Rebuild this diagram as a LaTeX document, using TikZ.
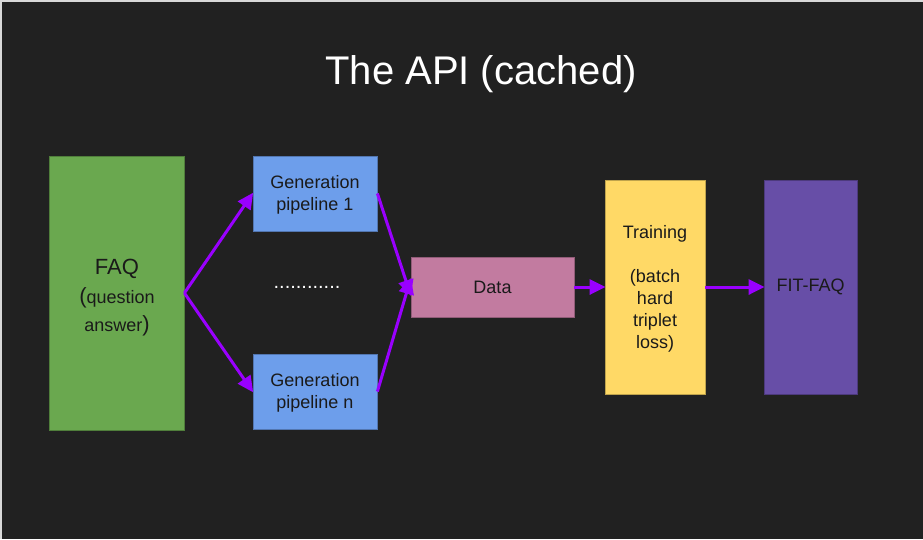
\documentclass[tikz,border=0pt]{standalone}
\usepackage{fontspec}
\setmainfont{Liberation Sans}
\usetikzlibrary{arrows.meta}
\definecolor{bg}{HTML}{212121}
\definecolor{edge}{HTML}{D9D9D9}
\definecolor{faqg}{HTML}{6AA84F}
\definecolor{genb}{HTML}{6D9EEB}
\definecolor{datap}{HTML}{C27BA0}
\definecolor{trainy}{HTML}{FFD966}
\definecolor{fitp}{HTML}{674EA7}
\definecolor{arr}{HTML}{9900FF}
\definecolor{txt}{HTML}{1A1A1A}
\tikzset{
  box/.style={draw=#1!75!black, line width=0.8pt, fill=#1, inner sep=0pt, align=center, text=txt,
    font=\fontsize{18}{22}\selectfont},
  link/.style={draw=arr, line width=3pt, -{Triangle[length=16pt,width=15pt]}, shorten >=-1pt},
}
\begin{document}
\begin{tikzpicture}[x=1pt,y=-1pt]
\fill[edge] (0,0) rectangle (923,539);
\fill[bg] (2,2) rectangle (923,539);
\useasboundingbox (0,0) rectangle (923,539);

\node[text=white, font=\fontsize{40}{48}\selectfont] (title) at (481,74) {The API (cached)};

\node[box=faqg, minimum width=135pt, minimum height=274pt] (faq) at (116.5,293) {};
\node[text=txt, align=center, font=\fontsize{18}{28.5}\selectfont, inner sep=0pt] (faqtext) at (117,298)
  {{\fontsize{22}{28.5}\selectfont FAQ}\\{\fontsize{22}{28.5}\selectfont(}question\\answer{\fontsize{22}{28.5}\selectfont)}};

\node[box=genb, minimum width=124pt, minimum height=75pt] (gen1) at (315,193.5) {\rule{0pt}{16pt}Generation\\pipeline 1};
\node[box=genb, minimum width=124pt, minimum height=75pt] (genn) at (315,391.5) {\rule{0pt}{16pt}Generation\\pipeline n};
\node[text=white, font=\fontsize{20}{24}\selectfont, inner sep=0pt] (dots) at (307,287) {............};

\node[box=datap, minimum width=163pt, minimum height=60pt] (data) at (492.5,287) {Data};
\node[box=trainy, minimum width=100pt, minimum height=214pt] (train) at (655,287)
  {\rule{0pt}{17pt}Training\\[22pt](batch\\hard\\triplet\\loss)};
\node[box=fitp, minimum width=93pt, minimum height=214pt] (fit) at (810.5,287) {FIT-FAQ};

\draw[link] (faq.east) -- (gen1.west);
\draw[link] (faq.east) -- (genn.west);
\draw[link] (gen1.east) -- ([yshift=-8pt]data.west);
\draw[link] (genn.east) -- ([yshift=8pt]data.west);
\draw[link] (data.east) -- (train.west);
\draw[link] (train.east) -- (fit.west);
\end{tikzpicture}
\end{document}
